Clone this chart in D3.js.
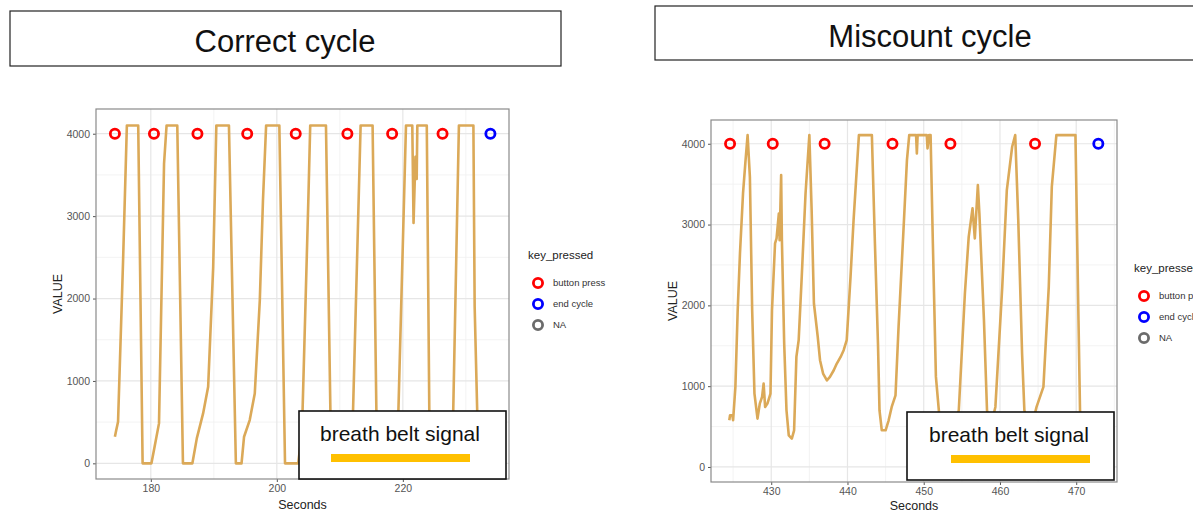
<!DOCTYPE html>
<html>
<head>
<meta charset="utf-8">
<script src="https://cdn.jsdelivr.net/npm/d3@7"></script>
<style>
    body { margin: 0; background: #fff; }
    svg { display: block; font-family: "Liberation Sans", Arial, sans-serif; }
</style>
</head>
<body>
<div id="chart"></div>
<script>
// --- data ---
// correct cycle: breath belt signal
let correctSeconds = [174.3, 174.5, 174.8, 175.6, 176.2, 178.0, 178.7, 180.1, 180.6, 181.3, 182.1, 182.5,
    184.2, 185.1, 186.6, 187.3, 188.3, 189.1, 189.9, 190.4, 192.4, 193.5, 194.4, 194.8, 195.7, 196.5,
    197.3, 197.8, 198.3, 200.4, 201.3, 203.4, 204.0, 205.0, 205.3, 207.8, 208.5, 208.9, 211.2, 212.1,
    213.3, 215.2, 215.8, 216.2, 218.8, 219.3, 220.5, 221.5, 221.7, 222.0, 222.2, 222.3, 223.8, 224.2,
    224.5, 227.6, 228.0, 228.9, 231.2, 231.4, 231.8, 232.1];
let correctValue = [323, 400, 505, 2464, 4100, 4100, 0, 0, 200, 485, 3636, 4100,
    4100, 0, 0, 303, 606, 929, 2384, 4100, 4100, 0, 0, 323, 525, 848,
    1980, 3190, 4100, 4100, 0, 0, 400, 3190, 4100, 4100, 646, 0, 0, 646,
    4100, 4100, 646, 0, 0, 646, 4100, 4100, 2917, 3720, 3450, 4100, 4100, 646,
    0, 0, 646, 4100, 4100, 1900, 646, 0];
let correctPressSeconds = [174.3, 180.5, 187.4, 195.3, 203.0, 211.2, 218.3, 226.3, 233.9];
let correctPressKey = ['button press', 'button press', 'button press', 'button press', 'button press',
    'button press', 'button press', 'button press', 'end cycle'];

// miscount cycle: breath belt signal
let miscountSeconds = [424.5, 424.6, 424.9, 425.0, 425.3, 425.6, 425.9, 426.3, 426.6, 426.9, 427.2, 427.5,
    427.8, 428.2, 428.5, 428.8, 429.0, 429.2, 429.5, 429.9, 430.1, 430.5, 430.7, 431.0, 431.1, 431.3,
    431.4, 431.7, 432.0, 432.3, 432.7, 433.0, 433.3, 433.6, 434.0, 434.5, 435.0, 435.3, 435.6, 436.1,
    436.4, 436.8, 437.3, 437.7, 438.2, 438.6, 439.1, 439.5, 439.9, 440.4, 440.8, 441.5, 443.2, 443.6,
    444.0, 444.2, 444.5, 445.0, 445.4, 445.8, 446.3, 446.7, 447.3, 447.8, 448.1, 449.0, 449.1, 449.2,
    450.4, 450.5, 450.7, 450.9, 451.2, 451.6, 452.0, 452.6, 453.4, 454.0, 454.6, 455.4, 455.9, 456.4,
    456.7, 457.1, 457.3, 457.9, 458.3, 458.8, 459.4, 460.3, 460.9, 461.6, 462.0, 462.4, 462.9, 463.2,
    463.8, 464.3, 464.8, 465.7, 466.4, 466.8, 467.4, 469.9, 470.3, 470.5, 470.8];
let miscountValue = [578, 640, 640, 578, 991, 1940, 2642, 3385, 3756, 4107, 3591, 1940,
    908, 598, 784, 867, 1032, 743, 784, 908, 1940, 2766, 2828, 3137, 2807, 3612,
    2807, 1527, 702, 392, 351, 454, 1362, 1569, 2353, 3385, 4107, 3178, 2023, 1610,
    1321, 1156, 1073, 1115, 1197, 1280, 1362, 1445, 1569, 2353, 3055, 4107, 4107, 2766,
    1527, 702, 454, 454, 578, 743, 887, 1734, 2848, 3798, 4107, 4107, 3880, 4107,
    4107, 3942, 4107, 4107, 2766, 1115, 681, 400, 380, 500, 702, 2147, 2848, 3200,
    2828, 3488, 3138, 1817, 702, 500, 743, 2229, 3427, 3963, 4107, 3055, 1404, 702,
    500, 550, 743, 991, 2229, 3468, 4107, 4107, 1817, 702, 300];
let miscountPressSeconds = [424.6, 430.2, 437.0, 445.9, 453.5, 464.6, 472.9];
let miscountPressKey = ['button press', 'button press', 'button press', 'button press', 'button press',
    'button press', 'end cycle'];

let pressValue = 4000;
let legendKeys = ['button press', 'end cycle', 'NA'];
let yTicks = [0, 1000, 2000, 3000, 4000];
let yMinorTicks = [500, 1500, 2500, 3500];
let correctXTicks = [180, 200, 220];
let correctXMinor = [170, 190, 210, 230];
let miscountXTicks = [430, 440, 450, 460, 470];
let miscountXMinor = [425, 435, 445, 455, 465, 475];

// colours
let lineColor = '#dba958';
let keyColor = d3.scaleOrdinal()
    .domain(legendKeys)
    .range(['#ff0000', '#0000ff', '#6b6b6b']);

let svgWidth = 1193;
let svgHeight = 512;

let svg = d3.select('#chart').append('svg')
    .attr('width', svgWidth)
    .attr('height', svgHeight);

svg.append('rect')
    .attr('width', svgWidth)
    .attr('height', svgHeight)
    .attr('fill', '#fff');

// draws one ggplot-like panel
function drawPanel(p) {
    let x = d3.scaleLinear().domain(p.xDomain).range([p.left, p.right]);
    let y = d3.scaleLinear().domain(p.yDomain).range([p.bottom, p.top]);

    let g = svg.append('g');

    // title box
    g.append('rect')
        .attr('x', p.titleBox[0]).attr('y', p.titleBox[1])
        .attr('width', p.titleBox[2]).attr('height', p.titleBox[3])
        .attr('fill', '#fff').attr('stroke', '#222').attr('stroke-width', 1.2);
    g.append('text')
        .attr('x', p.titleBox[0] + p.titleBox[4])
        .attr('y', p.titleBox[1] + 41)
        .attr('text-anchor', 'middle')
        .attr('font-size', '31px')
        .attr('fill', '#111')
        .text(p.title);

    // grid
    g.selectAll('.minorX').data(p.xMinor.filter(d => x(d) > p.left && x(d) < p.right)).enter()
        .append('line')
        .attr('x1', d => x(d)).attr('x2', d => x(d))
        .attr('y1', p.top).attr('y2', p.bottom)
        .attr('stroke', '#f0f0f0').attr('stroke-width', 0.8);
    g.selectAll('.minorY').data(yMinorTicks).enter()
        .append('line')
        .attr('x1', p.left).attr('x2', p.right)
        .attr('y1', d => y(d)).attr('y2', d => y(d))
        .attr('stroke', '#f0f0f0').attr('stroke-width', 0.8);
    g.selectAll('.majorX').data(p.xTicks).enter()
        .append('line')
        .attr('x1', d => x(d)).attr('x2', d => x(d))
        .attr('y1', p.top).attr('y2', p.bottom)
        .attr('stroke', '#e6e6e6').attr('stroke-width', 1.2);
    g.selectAll('.majorY').data(yTicks).enter()
        .append('line')
        .attr('x1', p.left).attr('x2', p.right)
        .attr('y1', d => y(d)).attr('y2', d => y(d))
        .attr('stroke', '#e6e6e6').attr('stroke-width', 1.2);

    // axes
    let bottomAxis = d3.axisBottom(x).tickValues(p.xTicks).tickFormat(d3.format('d')).tickSize(3).tickPadding(3);
    let leftAxis = d3.axisLeft(y).tickValues(yTicks).tickFormat(d3.format('d')).tickSize(3).tickPadding(3);

    let xAxis = g.append('g')
        .attr('transform', `translate(0, ${p.bottom})`)
        .call(bottomAxis);
    let yAxis = g.append('g')
        .attr('transform', `translate(${p.left}, 0)`)
        .call(leftAxis);
    [xAxis, yAxis].forEach(a => {
        a.select('.domain').remove();
        a.selectAll('line').attr('stroke', '#555');
        a.selectAll('text').attr('fill', '#555').attr('font-size', '10.5px').attr('font-family', null);
    });

    // signal line
    let clipId = 'clip' + p.id;
    svg.append('clipPath').attr('id', clipId)
        .append('rect')
        .attr('x', p.left).attr('y', p.top)
        .attr('width', p.right - p.left).attr('height', p.bottom - p.top);

    let line = d3.line()
        .x(d => x(d[0]))
        .y(d => y(d[1]));

    g.append('path')
        .datum(d3.zip(p.seconds, p.values))
        .attr('clip-path', `url(#${clipId})`)
        .attr('fill', 'none')
        .attr('stroke', lineColor)
        .attr('stroke-width', 2.6)
        .attr('stroke-linejoin', 'round')
        .attr('d', line);

    // key press circles
    g.selectAll('.press').data(d3.zip(p.pressSeconds, p.pressKey)).enter()
        .append('circle')
        .attr('cx', d => x(d[0]))
        .attr('cy', y(pressValue))
        .attr('r', 4.6)
        .attr('fill', 'none')
        .attr('stroke', d => keyColor(d[1]))
        .attr('stroke-width', 2.8);

    // panel border
    g.append('rect')
        .attr('x', p.left).attr('y', p.top)
        .attr('width', p.right - p.left).attr('height', p.bottom - p.top)
        .attr('fill', 'none').attr('stroke', '#8a8a8a').attr('stroke-width', 1.2);

    // axis titles
    g.append('text')
        .attr('transform', `translate(${p.left - 34}, ${(p.top + p.bottom) / 2}) rotate(-90)`)
        .attr('text-anchor', 'middle')
        .attr('font-size', '12.5px')
        .attr('fill', '#222')
        .text('VALUE');
    g.append('text')
        .attr('x', (p.left + p.right) / 2)
        .attr('y', p.bottom + p.xTitleGap)
        .attr('text-anchor', 'middle')
        .attr('font-size', '12.5px')
        .attr('fill', '#222')
        .text('Seconds');

    // legend
    let legend = g.append('g')
        .attr('transform', `translate(${p.legend[0]}, ${p.legend[1]})`);
    legend.append('text')
        .attr('x', 0).attr('y', 0)
        .attr('font-size', '11.5px')
        .attr('fill', '#222')
        .text('key_pressed');
    legend.selectAll('.key').data(legendKeys).enter()
        .append('circle')
        .attr('cx', 10)
        .attr('cy', (d, i) => 24 + i * 21)
        .attr('r', 4.6)
        .attr('fill', 'none')
        .attr('stroke', d => keyColor(d))
        .attr('stroke-width', 2.8);
    legend.selectAll('.keyText').data(legendKeys).enter()
        .append('text')
        .attr('x', 25)
        .attr('y', (d, i) => 24 + i * 21)
        .attr('dy', '0.35em')
        .attr('font-size', '9.5px')
        .attr('fill', '#333')
        .text(d => d);

    // annotation box
    let box = p.note;
    g.append('rect')
        .attr('x', box[0]).attr('y', box[1])
        .attr('width', box[2]).attr('height', box[3])
        .attr('fill', '#fff').attr('stroke', '#111').attr('stroke-width', 1.6);
    g.append('text')
        .attr('x', box[0] + box[4])
        .attr('y', box[1] + 30)
        .attr('text-anchor', 'middle')
        .attr('font-size', '21px')
        .attr('fill', '#111')
        .text('breath belt signal');
    g.append('line')
        .attr('x1', box[0] + box[5]).attr('x2', box[0] + box[5] + 139)
        .attr('y1', box[1] + 47).attr('y2', box[1] + 47)
        .attr('stroke', '#ffc000').attr('stroke-width', 8);
}

drawPanel({
    id: 1,
    title: 'Correct cycle',
    titleBox: [10, 11, 551, 55, 275],
    left: 96, right: 509, top: 109, bottom: 479,
    xDomain: [171.3, 236.85],
    yDomain: [-190, 4300],
    xTicks: correctXTicks,
    xMinor: correctXMinor,
    seconds: correctSeconds,
    values: correctValue,
    pressSeconds: correctPressSeconds,
    pressKey: correctPressKey,
    legend: [528, 259],
    xTitleGap: 30,
    note: [299, 411, 207, 68, 101, 32]
});

drawPanel({
    id: 2,
    title: 'Miscount cycle',
    titleBox: [655, 6, 545, 54, 275],
    left: 711, right: 1117, top: 120, bottom: 482,
    xDomain: [422.1, 475.35],
    yDomain: [-186, 4294],
    xTicks: miscountXTicks,
    xMinor: miscountXMinor,
    seconds: miscountSeconds,
    values: miscountValue,
    pressSeconds: miscountPressSeconds,
    pressKey: miscountPressKey,
    legend: [1134, 272],
    xTitleGap: 28,
    note: [907, 412, 207, 68, 102, 44]
});
</script>
</body>
</html>
